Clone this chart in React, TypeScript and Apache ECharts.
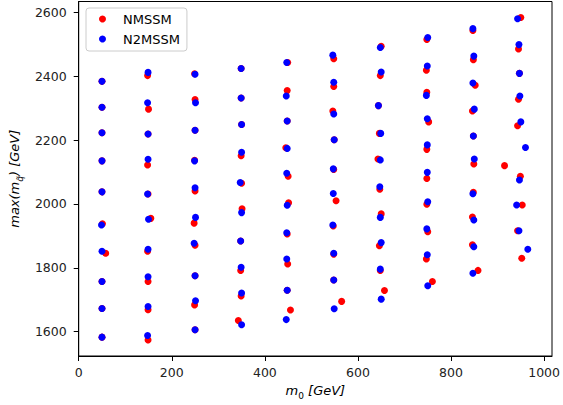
import React, { useEffect, useRef } from "react";
import * as echarts from "echarts";

// m0 [GeV], max(m_q~) [GeV]
const nmssm: number[][] = [
  // m0 ~ 50
  [50, 2384], [50, 2303], [50, 2223], [50, 2135], [50, 2038], [51, 1938], [58, 1846], [50, 1757], [50, 1673], [50, 1583],
  // m0 ~ 150
  [148, 2402], [150, 2297], [149, 2219], [148, 2122], [149, 2031], [155, 1955], [148, 1852], [149, 1757], [149, 1669], [149, 1574],
  // m0 ~ 250
  [249, 2408], [250, 2327], [250, 2231], [249, 2137], [250, 2041], [248, 1940], [250, 1871], [250, 1775], [249, 1684], [250, 1606],
  // m0 ~ 350
  [349, 2424], [349, 2332], [350, 2249], [349, 2151], [350, 2065], [351, 1985], [348, 1884], [348, 1792], [349, 1712], [343, 1635],
  // m0 ~ 450
  [449, 2443], [448, 2355], [448, 2260], [445, 2176], [450, 2087], [451, 2004], [448, 1906], [449, 1812], [448, 1730], [455, 1668],
  // m0 ~ 550
  [548, 2455], [548, 2368], [546, 2291], [549, 2201], [548, 2108], [553, 2010], [547, 1931], [548, 1843], [548, 1762], [565, 1695],
  // m0 ~ 650
  [650, 2494], [648, 2402], [644, 2308], [646, 2221], [643, 2141], [647, 2046], [650, 1969], [646, 1869], [648, 1792], [657, 1729],
  // m0 ~ 750
  [748, 2515], [747, 2419], [748, 2350], [752, 2257], [748, 2171], [748, 2080], [748, 1999], [750, 1913], [747, 1828], [760, 1757],
  // m0 ~ 850
  [847, 2543], [848, 2452], [852, 2372], [846, 2291], [848, 2213], [849, 2125], [848, 2037], [846, 1959], [846, 1872], [858, 1792],
  // m0 ~ 950
  [950, 2584], [945, 2485], [947, 2409], [945, 2328], [943, 2245], [915, 2120], [949, 2087], [953, 1997], [943, 1916], [952, 1830],
];

const n2mssm: number[][] = [
  [50, 2384], [50, 2303], [50, 2223], [50, 2135], [50, 2038], [49, 1934], [50, 1852], [50, 1757], [50, 1673], [50, 1583],
  [149, 2412], [148, 2317], [149, 2219], [149, 2140], [148, 2031], [150, 1952], [149, 1858], [149, 1772], [149, 1679], [148, 1588],
  [250, 2406], [251, 2317], [250, 2231], [249, 2135], [250, 2051], [251, 1958], [248, 1877], [250, 1775], [251, 1697], [250, 1606],
  [349, 2424], [349, 2332], [350, 2249], [350, 2162], [347, 2067], [350, 1973], [348, 1884], [349, 1802], [350, 1721], [350, 1622],
  [447, 2443], [446, 2338], [448, 2260], [448, 2174], [447, 2096], [448, 1996], [447, 1910], [447, 1828], [448, 1730], [446, 1638],
  [546, 2466], [548, 2381], [548, 2282], [549, 2201], [547, 2110], [547, 2033], [546, 1934], [548, 1846], [548, 1762], [549, 1672],
  [648, 2490], [650, 2413], [644, 2308], [649, 2221], [648, 2138], [647, 2054], [648, 1958], [650, 1879], [648, 1796], [650, 1702],
  [750, 2521], [749, 2432], [747, 2340], [749, 2267], [749, 2185], [749, 2099], [750, 2007], [748, 1922], [749, 1841], [750, 1744],
  [847, 2549], [849, 2463], [847, 2379], [850, 2297], [848, 2213], [850, 2141], [847, 2032], [849, 1950], [849, 1866], [847, 1783],
  [943, 2580], [946, 2499], [947, 2409], [948, 2338], [950, 2257], [960, 2177], [947, 2075], [941, 1997], [946, 1916], [965, 1858],
];

const xTicks = [0, 200, 400, 600, 800, 1000];
const yTicks = [1600, 1800, 2000, 2200, 2400, 2600];
const seriesNames = ["NMSSM", "N2MSSM"];

const FONT = "DejaVu Sans";

export default function App() {
  const ref = useRef<HTMLDivElement>(null);
  useEffect(() => {
    if (!ref.current) return;
    const chart = echarts.init(ref.current, null, { renderer: "svg" });
    const nameRich = {
      it: { fontFamily: FONT, fontStyle: "italic", fontSize: 13, lineHeight: 14, color: "#000", verticalAlign: "top" },
      up: { fontFamily: FONT, fontSize: 13, lineHeight: 14, color: "#000", verticalAlign: "top" },
      sub: { fontFamily: FONT, fontStyle: "italic", fontSize: 9, lineHeight: 9, padding: [7, 0, 0, 0], color: "#000", verticalAlign: "top" },
      subu: { fontFamily: FONT, fontSize: 9, lineHeight: 9, padding: [7, 0, 0, 0], color: "#000", verticalAlign: "top" },
    };
    const plain = (v: number) => String(v);
    chart.setOption({
      animation: false,
      backgroundColor: "#fff",
      grid: {
        left: 78.5,
        right: 7,
        top: 1.5,
        bottom: 49,
        show: true,
        borderColor: "#000",
        borderWidth: 1,
      },
      legend: {
        left: 86,
        top: 8,
        orient: "vertical",
        data: seriesNames,
        icon: "circle",
        itemWidth: 7,
        itemHeight: 7,
        itemGap: 6,
        padding: [4, 7, 5, 13],
        backgroundColor: "rgba(255,255,255,0.8)",
        borderColor: "#cccccc",
        borderWidth: 1,
        borderRadius: 3,
        textStyle: {
          fontFamily: FONT,
          fontSize: 13,
          lineHeight: 14,
          color: "#000",
          padding: [0, 0, 0, 12],
        },
      },
      xAxis: {
        type: "value",
        min: 0,
        max: 1017,
        name: "{it|m}{subu|0}{up| }{it|[GeV]}",
        nameLocation: "middle",
        nameGap: 28,
        nameTextStyle: { rich: nameRich },
        axisLine: { show: true, lineStyle: { color: "#000", width: 1 } },
        axisTick: { show: true, length: 5, lineStyle: { color: "#000" }, customValues: xTicks },
        axisLabel: { customValues: xTicks, formatter: plain, margin: 10, fontFamily: FONT, fontSize: 12.5, color: "#222" },
        splitLine: { show: false },
      },
      yAxis: {
        type: "value",
        min: 1524,
        max: 2634,
        name: "{it|max(m}{sub|q̃}{it|) [GeV]}",
        nameLocation: "middle",
        nameGap: 53,
        nameTextStyle: { rich: nameRich },
        axisLine: { show: true, lineStyle: { color: "#000", width: 1 } },
        axisTick: { show: true, length: 5, lineStyle: { color: "#000" }, customValues: yTicks },
        axisLabel: { customValues: yTicks, formatter: plain, margin: 12, fontFamily: FONT, fontSize: 12.5, color: "#222" },
        splitLine: { show: false },
      },
      series: [
        {
          name: seriesNames[0],
          type: "scatter",
          data: nmssm,
          symbol: "circle",
          symbolSize: 7,
          itemStyle: { color: "#ff0000", opacity: 1 },
        },
        {
          name: seriesNames[1],
          type: "scatter",
          data: n2mssm,
          symbol: "circle",
          symbolSize: 7,
          itemStyle: { color: "#0000ff", opacity: 1 },
        },
      ],
    });
    return () => chart.dispose();
  }, []);
  return (
    <div
      ref={ref}
      style={{ position: "absolute", left: 0, top: 0, width: 563, height: 405 }}
    />
  );
}
